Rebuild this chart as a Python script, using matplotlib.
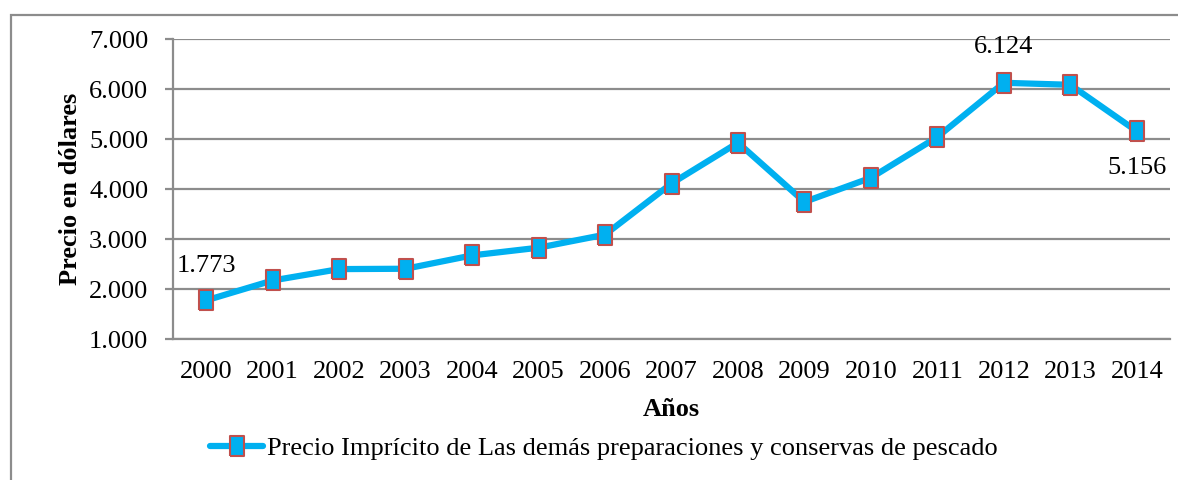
import matplotlib
matplotlib.use("Agg")
import matplotlib.pyplot as plt
from matplotlib.patches import Rectangle
from matplotlib.lines import Line2D
from matplotlib.ticker import FuncFormatter

years = ["2000", "2001", "2002", "2003", "2004", "2005", "2006", "2007",
         "2008", "2009", "2010", "2011", "2012", "2013", "2014"]
prices = [1773, 2171, 2398, 2405, 2672, 2826, 3087, 4110,
          4926, 3742, 4224, 5040, 6124, 6084, 5156]
series_name = "Precio Imprícito de Las demás preparaciones y conservas de pescado"
y_ticks = [1000, 2000, 3000, 4000, 5000, 6000, 7000]
labelled = {0: "1.773", 12: "6.124", 14: "5.156"}

plt.rcParams['font.family'] = ['Liberation Serif', 'DejaVu Serif']
FS = 19

fig = plt.figure(figsize=(11.78, 4.8), dpi=100)
W, H = 1178, 480
ax = fig.add_axes([173 / W, 1 - 339 / H, (1170 - 173) / W, (339 - 39) / H])

line_c = '#00B0F0'
edge_c = '#C0504D'
rect_marker = [(-0.65, -1), (0.65, -1), (0.65, 1), (-0.65, 1), (-0.65, -1)]

x = list(range(len(years)))
ax.plot(x, prices, color=line_c, lw=4.5, marker=rect_marker, markersize=14.5,
        markerfacecolor=line_c, markeredgecolor=edge_c, markeredgewidth=1.5,
        solid_joinstyle='round', solid_capstyle='round', zorder=3, clip_on=False)

ax.set_xlim(-0.5, len(years) - 0.5)
ax.set_ylim(1000, 7000)
ax.set_yticks(y_ticks)
ax.yaxis.set_major_formatter(FuncFormatter(lambda v, p: f"{int(v):,}".replace(",", ".")))
ax.set_xticks(x)
ax.set_xticklabels(years)
ax.grid(axis='y', color='#8c8c8c', lw=1.6)
ax.set_axisbelow(True)
for s in ['top', 'right']:
    ax.spines[s].set_visible(False)
for s in ['left', 'bottom']:
    ax.spines[s].set_color('#8c8c8c')
    ax.spines[s].set_linewidth(1.6)
ax.tick_params(axis='y', length=5.8, color='#8c8c8c', width=1.6, labelsize=FS, pad=12)
ax.tick_params(axis='x', length=0, labelsize=FS, pad=16)

ax.set_ylabel("Precio en dólares", fontsize=FS, fontweight='bold', labelpad=5)
ax.set_xlabel("Años", fontsize=FS, fontweight='bold', labelpad=11)

offsets = {0: (0, 34, 'center', 'center'), 12: (0, 36, 'center', 'center'), 14: (0, -37, 'center', 'center')}
for i, txt in labelled.items():
    dx, dy, ha, va = offsets[i]
    ax.annotate(txt, (x[i], prices[i]), xytext=(dx, dy), textcoords='offset pixels',
                ha=ha, va=va, fontsize=FS)

handle = Line2D([], [], color=line_c, lw=4.5, marker=rect_marker, markersize=14.5,
                markerfacecolor=line_c, markeredgecolor=edge_c, markeredgewidth=1.5,
                solid_capstyle='round')
fig.legend([handle], [series_name], loc='center', bbox_to_anchor=(604 / W, 1 - 448 / H),
           frameon=False, fontsize=FS, handlelength=2.0, handletextpad=0.15)

fig.patches.append(Rectangle((11 / W, -0.1), 1.2, 1 - 15 / H + 0.1, transform=fig.transFigure,
                             fill=False, edgecolor='#8c8c8c', lw=1.6))

fig.savefig("out.png", dpi=100)
